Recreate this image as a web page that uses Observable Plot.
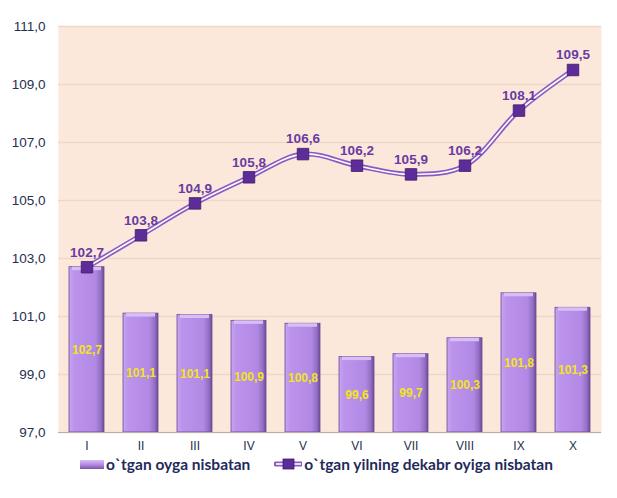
<!DOCTYPE html>
<html>
<head>
<meta charset="utf-8">
<script src="https://cdn.jsdelivr.net/npm/d3@7"></script>
<script src="https://cdn.jsdelivr.net/npm/@observablehq/plot@0.6"></script>
<style>
  body { margin: 0; background: #ffffff; font-family: "Liberation Sans", Arial, sans-serif; }
  #chart { width: 617px; }
  .legend { display: flex; align-items: center; margin-top: 0px; padding-left: 80px;
    font-family: Lato, "Liberation Sans", Arial, sans-serif; font-weight: bold; font-size: 15.5px; color: #1F2B5A; }
  .legend .item { display: flex; align-items: center; }
  .legend .item + .item { margin-left: 24px; }
  .legend svg { margin-right: 2px; }
</style>
</head>
<body>
<div id="chart"></div>
<script>
const months = ["I","II","III","IV","V","VI","VII","VIII","IX","X"];
const prevMonth = [102.7, 101.1, 101.05, 100.85, 100.75, 99.6, 99.7, 100.25, 101.8, 101.3];
const prevMonthLabels = ["102,7","101,1","101,1","100,9","100,8","99,6","99,7","100,3","101,8","101,3"];
const decPrev = [102.7, 103.8, 104.9, 105.8, 106.6, 106.2, 105.9, 106.2, 108.1, 109.5];
const yTicks = [97, 99, 101, 103, 105, 107, 109, 111];
const seriesNames = ["o`tgan oyga nisbatan", "o`tgan yilning dekabr oyiga nisbatan"];

const fmt = v => v.toFixed(1).replace(".", ",");
const bars = months.map((m, i) => ({m, v: prevMonth[i], label: prevMonthLabels[i], mid: (prevMonth[i] + 97) / 2}));
const line = months.map((m, i) => ({m, v: decPrev[i]}));

const yDomain = [97, 111];
const plot = Plot.plot({
  width: 617,
  height: 455,
  marginTop: 26,
  marginBottom: 23,
  marginLeft: 58,
  marginRight: 16,
  style: {fontFamily: "Liberation Sans, Arial, sans-serif", background: "transparent"},
  x: {domain: months, padding: 0.35, paddingOuter: 0.175, label: null, axis: null},
  y: {domain: yDomain, ticks: yTicks, label: null, axis: null},
  marks: [
    Plot.frame({fill: "#FCE8DA", stroke: null}),
    Plot.ruleY(yTicks, {stroke: "#EED6C8", strokeWidth: 1.3}),
    Plot.axisY({ticks: yTicks, tickFormat: fmt, tickSize: 0, tickPadding: 13, fontSize: 13.5, color: "#26304F", label: null}),
    Plot.barY(bars, {x: "m", y1: 97, y2: "v", fill: "url(#barGrad)", stroke: "#6B4A93", strokeWidth: 0.8}),
    Plot.barY(bars, {x: "m", y1: "v", y2: d => d.v - 0.12, fill: "#D9BEF5", insetLeft: 3, insetRight: 3}),
    Plot.text(bars, {x: "m", y: "mid", text: "label", fill: "#F4E51A", fontWeight: "bold", fontSize: 12}),
    Plot.ruleY([97], {stroke: "#B9AFA8", strokeWidth: 1}),
    Plot.ruleX(months, {x: "m", y1: 97, y2: 96.8, dx: -27.15, stroke: "#B9AFA8"}),
    Plot.ruleX(months.slice(-1), {x: "m", y1: 97, y2: 96.8, dx: 27.15, stroke: "#B9AFA8"}),
    Plot.axisX({tickSize: 0, tickPadding: 9, fontSize: 12, color: "#26304F", label: null}),
    Plot.line(line, {x: "m", y: "v", curve: "catmull-rom", stroke: "#8A5BC4", strokeWidth: 5}),
    Plot.line(line, {x: "m", y: "v", curve: "catmull-rom", stroke: "#FFFFFF", strokeWidth: 1.6}),
    Plot.dot(line, {x: "m", y: "v", symbol: "square", r: 6.5, fill: "#5E2C98", stroke: "#3E1A6A", strokeWidth: 0.8}),
    Plot.text(line, {x: "m", y: "v", text: d => fmt(d.v), dy: -15, fill: "#6A3AA2", fontWeight: "bold", fontSize: 13.5})
  ]
});

// gradient defs for bars
const ns = "http://www.w3.org/2000/svg";
const defs = document.createElementNS(ns, "defs");
defs.innerHTML = `<linearGradient id="barGrad" x1="0" x2="1" y1="0" y2="0">
  <stop offset="0" stop-color="#C8A4F2"/>
  <stop offset="0.15" stop-color="#BC93EC"/>
  <stop offset="0.75" stop-color="#B189E4"/>
  <stop offset="0.9" stop-color="#9670C6"/>
  <stop offset="1" stop-color="#6E4D96"/>
</linearGradient>`;
plot.insertBefore(defs, plot.firstChild);
document.getElementById("chart").appendChild(plot);

// legend
const legend = document.createElement("div");
legend.className = "legend";
legend.innerHTML = `
  <div class="item"><svg width="24" height="14"><defs><linearGradient id="lg1" x1="0" x2="0" y1="0" y2="1"><stop offset="0" stop-color="#D9BEF5"/><stop offset="0.5" stop-color="#B48AE6"/><stop offset="1" stop-color="#7A56A6"/></linearGradient></defs><rect x="0" y="3" width="24" height="9" fill="url(#lg1)"/></svg><span>${seriesNames[0]}</span></div>
  <div class="item"><svg width="28" height="14"><line x1="2" x2="27" y1="7" y2="7" stroke="#8A5BC4" stroke-width="5" stroke-linecap="round"/><line x1="2" x2="27" y1="7" y2="7" stroke="#fff" stroke-width="1.6"/><rect x="9" y="2" width="11" height="10" fill="#5E2C98" stroke="#3E1A6A" stroke-width="0.8"/></svg><span>${seriesNames[1]}</span></div>`;
document.getElementById("chart").appendChild(legend);
</script>
</body>
</html>
